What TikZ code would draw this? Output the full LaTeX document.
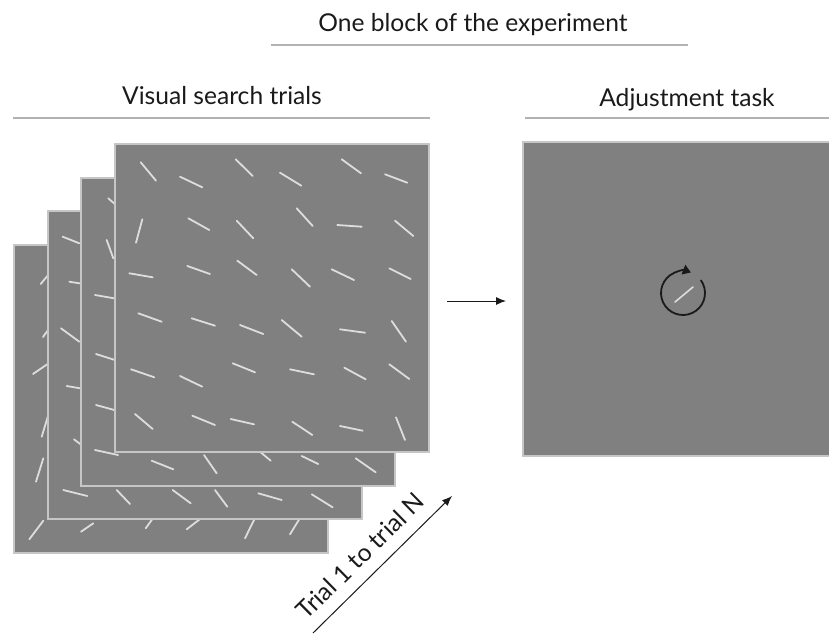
\documentclass[tikz,border=0pt]{standalone}
\usepackage{fontspec}
\setmainfont{Lato}
\usetikzlibrary{arrows.meta,positioning,calc}
\definecolor{screen}{HTML}{808080}
\definecolor{rim}{HTML}{C6C6C6}
\definecolor{stroke}{HTML}{DDDDDD}
\definecolor{rulegray}{HTML}{B2B2B2}
\definecolor{ink}{HTML}{1A1A1A}

\begin{document}
\begin{tikzpicture}[x=1pt,y=-1pt,
  font=\fontsize{24.6}{28}\selectfont,
  every node/.style={text=ink},
  panel/.style={draw=rim,line width=2pt,fill=screen,
                minimum width=314,minimum height=308,inner sep=0pt},
  bar/.style={draw=stroke,line width=1.8pt,line cap=round},
  headrule/.style={draw=rulegray,line width=1.6pt},
  flow/.style={-{Latex[length=10pt,width=8pt]},draw=ink,line width=1pt},
]
\useasboundingbox (0,0) rectangle (829,633);

% Headings and their rules
\node[anchor=base] (block) at (473,31) {One block of the experiment};
\draw[headrule] (271,45) -- (688,45);
\node[anchor=base] (search) at (222,104) {Visual search trials};
\draw[headrule] (13,118) -- (430,118);
\node[anchor=base] (adjhead) at (687,106) {Adjustment task};
\draw[headrule] (525,118) -- (835,118);

% Stack of search displays, back to front
\node[panel] (trial1) at (170.9,399.1) {};
\foreach \xa/\ya/\xb/\yb in {40.7/284/49/274, 43/337/56/319, 33/374/52/361,
    41.7/436.7/48/416, 36/481.7/43.3/458.3, 29.3/539.3/43.3/520.7,
    81/531.7/93.3/523.3, 145.7/528.3/156/514, 186.7/529.3/204/516,
    245/538.3/255/518, 290/534.3/300/518}
  \draw[bar] (\xa,\ya) -- (\xb,\yb);

\node[panel] (trial2) at (204.6,365.4) {};
\foreach \xa/\ya/\xb/\yb in {62.7/236.7/79.3/243.3, 69.3/281.7/90/285,
    61/328.3/79.3/341.7, 66.7/386/90/390, 74/439.3/92/453,
    63.3/490/87.3/496, 116.7/490/130/504, 172.7/490/190.7/503.3,
    215/490/227.3/506.7, 258.3/493.3/281.7/500, 311.7/494.3/332.7/507.3}
  \draw[bar] (\xa,\ya) -- (\xb,\yb);

\node[panel] (trial3) at (238.3,331.7) {};
\foreach \xa/\ya/\xb/\yb in {108.3/198.3/125/213, 106.7/240/113.3/258.3,
    95/295/118/299, 96/354/118/361, 96/405/118/411, 95/450/118/455,
    151.7/460.7/173.3/469.3, 204/455/216.7/473.3, 258/450/270.7/460.7,
    301.7/456/318.3/464, 355.7/458.3/375.7/472.3}
  \draw[bar] (\xa,\ya) -- (\xb,\yb);

\node[panel] (trial4) at (272,298) {};
\foreach \xa/\ya/\xb/\yb in {
    140.7/162.3/156/180.7, 180/176.7/202.3/187.3, 235.7/159.3/252.7/176,
    280/172.7/301.3/185.7, 341.7/159.3/361/173.3, 385/174.3/407.3/182.7,
    142.3/219.3/136/242.7, 188.3/218.3/209.3/230, 236.7/220.7/253.3/238.3,
    296.7/208.3/312.7/226, 337.3/225/361.7/226.7, 395/220.7/413.3/236,
    129.3/273.3/152.7/277.3, 187.3/266/210/274, 237.3/260.7/256.7/275,
    291.7/269.3/310/286.7, 331.7/269.3/354/280, 389.3/268.3/410.7/279,
    138.3/313.3/161.7/321.7, 191.7/318.3/215/325.7, 240/325/263.3/334,
    281.7/320/301.7/336.7, 340/329.3/365/332.7, 391.7/321/406/341.7,
    131/369.3/154.3/377.3, 180/376/202.3/386.7, 232.7/363.3/255/372.3,
    290/369.3/314/374.3, 344.3/367.7/365.7/379.3, 389.3/364.3/409.3/379,
    135/414/152.7/429, 192.3/415.7/215/425, 230.7/419/254/424.3,
    292.3/421.7/312.3/435, 340/426/362.7/430.7, 396/417.3/405/440}
  \draw[bar] (\xa,\ya) -- (\xb,\yb);

% Adjustment display with the response dial
\node[panel,minimum width=312,minimum height=314] (adjust) at (679,299) {};
\coordinate (dial) at (683,293);
\draw[draw=ink,line width=1.8pt,-{Triangle[length=8pt,width=10pt]}]
  ($(dial)+(-36:22)$) arc[start angle=-36,end angle=291,radius=22];
\draw[bar,line width=1.6pt] ($(dial)+(-8,9)$) -- ($(dial)+(10,-6)$);

% Arrows
\coordinate (go) at (447,301);
\draw[flow] (go) -- ([xshift=-16pt]go -| adjust.west);

\coordinate (first) at (313,633);
\coordinate (last) at (452,496);
\draw[flow] (first) -- (last)
  node[pos=0.45,sloped,above=9pt] (trials) {Trial 1 to trial N};

\end{tikzpicture}
\end{document}
